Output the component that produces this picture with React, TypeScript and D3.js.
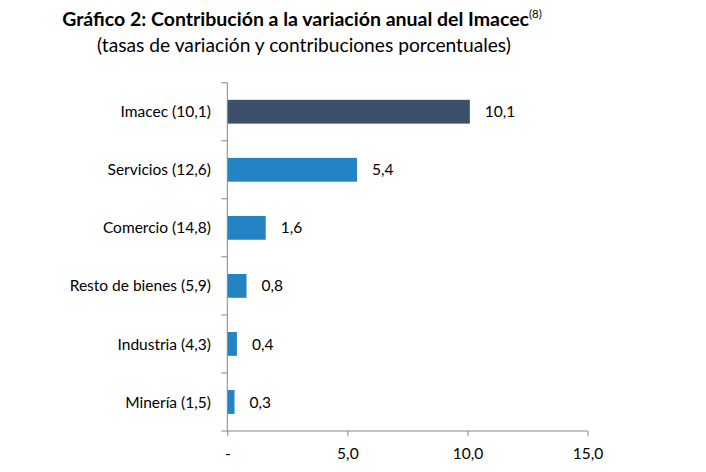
import React, { useEffect, useRef } from "react";
import * as d3 from "d3";

const categories = [
  "Imacec (10,1)",
  "Servicios (12,6)",
  "Comercio (14,8)",
  "Resto de bienes (5,9)",
  "Industria (4,3)",
  "Minería (1,5)",
];
const contributions = [10.1, 5.4, 1.6, 0.8, 0.4, 0.3];
const xTicks = [0, 5, 10, 15];

const fmt = (v: number) => (v === 0 ? "-" : d3.format(".1f")(v).replace(".", ","));

export default function App() {
  const ref = useRef<SVGSVGElement>(null);

  useEffect(() => {
    if (!ref.current) return;
    const svg = d3.select(ref.current);
    svg.selectAll("*").remove();

    const font = "Lato, 'Open Sans', sans-serif";
    const left = 227.3;
    const top = 82.7;
    const right = 587.5;
    const bottom = 431;

    const x = d3.scaleLinear().domain([0, 15]).range([left, right]);
    const y = d3
      .scaleBand<string>()
      .domain(categories)
      .range([top, bottom])
      .paddingInner(0.59)
      .paddingOuter(0.295);

    // title
    svg
      .append("text")
      .attr("x", 302)
      .attr("y", 26)
      .attr("text-anchor", "middle")
      .attr("font-family", font)
      .attr("font-weight", "bold")
      .attr("font-size", 19.5)
      .attr("fill", "#000")
      .text("Gráfico 2: Contribución a la variación anual del Imacec")
      .append("tspan")
      .attr("font-size", 11.5)
      .attr("font-weight", "normal")
      .attr("dy", -8)
      .text("(8)");

    svg
      .append("text")
      .attr("x", 304)
      .attr("y", 52)
      .attr("text-anchor", "middle")
      .attr("font-family", font)
      .attr("font-size", 19.2)
      .attr("fill", "#000")
      .text("(tasas de variación y contribuciones porcentuales)");

    // bars
    svg
      .append("g")
      .selectAll("rect")
      .data(contributions)
      .enter()
      .append("rect")
      .attr("x", x(0))
      .attr("y", (d, i) => y(categories[i]) as number)
      .attr("width", (d) => x(d) - x(0))
      .attr("height", y.bandwidth())
      .attr("fill", (d, i) => (i === 0 ? "#3d506b" : "#2383c3"));

    // value labels
    svg
      .append("g")
      .selectAll("text")
      .data(contributions)
      .enter()
      .append("text")
      .attr("x", (d) => x(d) + 15)
      .attr("y", (d, i) => (y(categories[i]) as number) + y.bandwidth() / 2)
      .attr("dy", "0.36em")
      .attr("font-family", font)
      .attr("font-size", 15.5)
      .attr("fill", "#000")
      .text((d) => fmt(d));

    // y axis
    const yAxis = svg.append("g").attr("stroke", "#868686");
    yAxis
      .append("line")
      .attr("x1", left)
      .attr("x2", left)
      .attr("y1", top)
      .attr("y2", bottom);
    const bounds = d3.range(categories.length + 1).map((i) => top + i * y.step());
    yAxis
      .selectAll("line.tick")
      .data(bounds)
      .enter()
      .append("line")
      .attr("class", "tick")
      .attr("x1", left - 6)
      .attr("x2", left)
      .attr("y1", (d) => d)
      .attr("y2", (d) => d);

    svg
      .append("g")
      .selectAll("text")
      .data(categories)
      .enter()
      .append("text")
      .attr("x", left - 16.5)
      .attr("y", (d) => (y(d) as number) + y.bandwidth() / 2)
      .attr("dy", "0.36em")
      .attr("text-anchor", "end")
      .attr("font-family", font)
      .attr("font-size", 15.5)
      .attr("fill", "#000")
      .text((d) => d);

    // x axis
    const xAxis = svg
      .append("g")
      .attr("transform", `translate(0,${bottom})`)
      .call(
        d3
          .axisBottom(x)
          .tickValues(xTicks)
          .tickSize(5)
          .tickSizeOuter(0)
          .tickPadding(12)
          .tickFormat((d) => fmt(d as number))
      );
    xAxis.select(".domain").attr("stroke", "#868686").attr("d", `M${left},0H${right}`);
    xAxis.selectAll(".tick line").attr("stroke", "#868686");
    xAxis
      .selectAll(".tick text")
      .attr("font-family", font)
      .attr("font-size", 15.5)
      .attr("fill", "#000");
  }, []);

  return (
    <svg
      ref={ref}
      width={706}
      height={472}
      style={{ position: "absolute", left: 0, top: 0, background: "#fff" }}
    />
  );
}
